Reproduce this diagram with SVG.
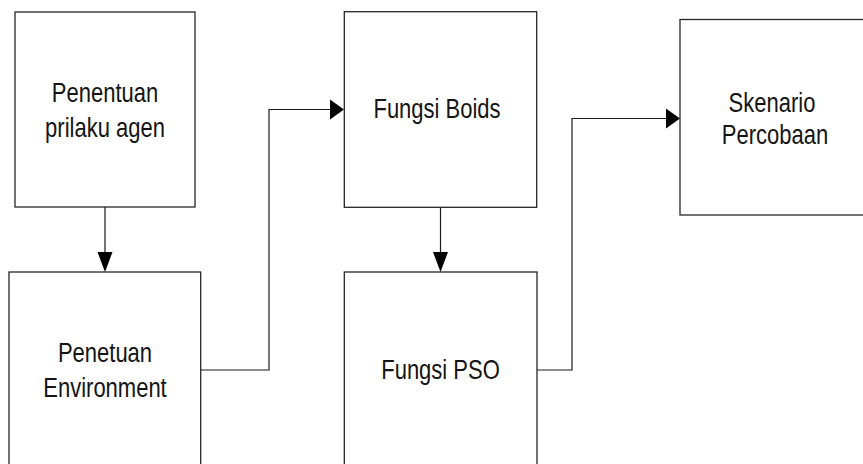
<svg xmlns="http://www.w3.org/2000/svg" width="863" height="464" viewBox="0 0 863 464">
  <style>
    .box { fill: #ffffff; stroke: #262626; stroke-width: 1.3; }
    .lbl { font-family: "Liberation Sans", Arial, sans-serif; font-size: 22px; fill: #141414; text-anchor: middle; }
    .wire { fill: none; stroke: #1a1a1a; stroke-width: 1.2; }
    .head { fill: #000000; stroke: none; }
  </style>
  <rect width="863" height="464" fill="#ffffff"/>

  <g id="connectors">
    <path class="wire" d="M105,207 V254"/>
    <polygon class="head" points="97.5,252 112.5,252 105,272"/>
    <path class="wire" d="M200.7,370 H269 V109.5 H332"/>
    <polygon class="head" points="330,99.5 330,119.5 344,109.5"/>
    <path class="wire" d="M440.5,207 V254"/>
    <polygon class="head" points="433,252 448,252 440.5,272"/>
    <path class="wire" d="M537,370 H572 V118.5 H668"/>
    <polygon class="head" points="666,108.5 666,128.5 680,118.5"/>
  </g>

  <g id="penentuan-prilaku-agen">
    <rect class="box" x="15" y="12" width="180" height="195"/>
    <text class="lbl" transform="matrix(1 0 0 1.25 105 102)">Penentuan</text>
    <text class="lbl" transform="matrix(1 0 0 1.25 105 137)">prilaku agen</text>
  </g>

  <g id="penetuan-environment">
    <rect class="box" x="9" y="272" width="191.7" height="200"/>
    <text class="lbl" transform="matrix(1 0 0 1.25 105 361.5)">Penetuan</text>
    <text class="lbl" transform="matrix(1 0 0 1.25 105 396.5)">Environment</text>
  </g>

  <g id="fungsi-boids">
    <rect class="box" x="344.3" y="11.7" width="192.4" height="195.6"/>
    <text class="lbl" transform="matrix(1 0 0 1.25 437 118.3)">Fungsi Boids</text>
  </g>

  <g id="fungsi-pso">
    <rect class="box" x="344.3" y="272" width="192.7" height="200"/>
    <text class="lbl" transform="matrix(1 0 0 1.25 440.5 379)">Fungsi PSO</text>
  </g>

  <g id="skenario-percobaan">
    <rect class="box" x="680" y="19.5" width="195" height="195.5"/>
    <text class="lbl" transform="matrix(1 0 0 1.25 772 111.7)">Skenario</text>
    <text class="lbl" transform="matrix(1 0 0 1.25 775 144)">Percobaan</text>
  </g>
</svg>
